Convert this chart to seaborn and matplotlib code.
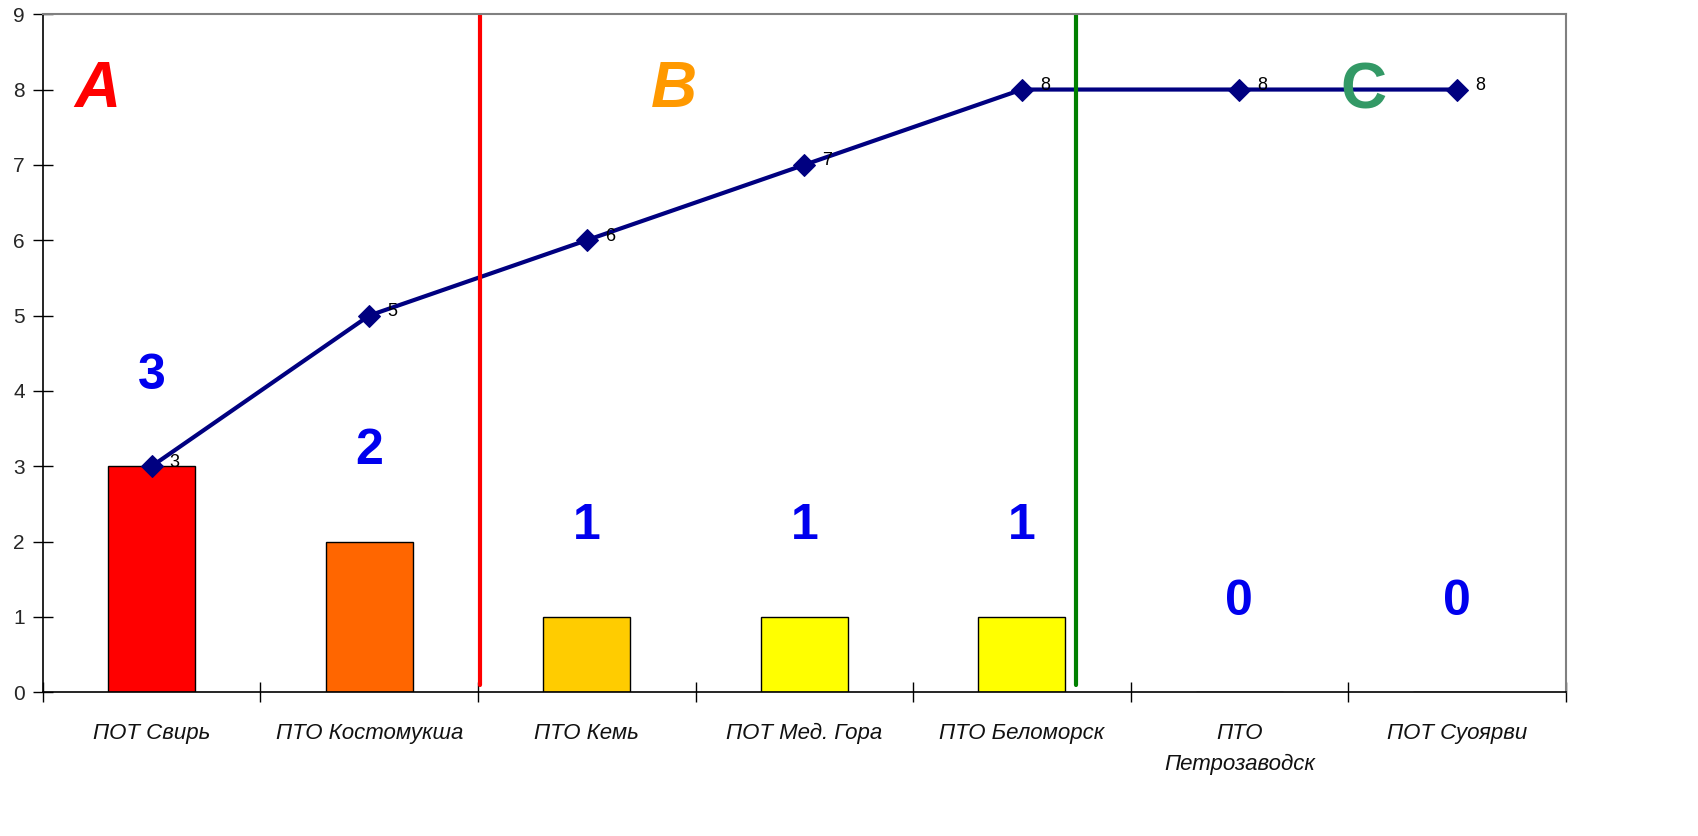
import numpy as np
import pandas as pd
import seaborn as sns
import matplotlib.pyplot as plt

# data
categories = ["ПОТ Свирь", "ПТО Костомукша", "ПТО Кемь", "ПОТ Мед. Гора",
              "ПТО Беломорск", "ПТО\nПетрозаводск", "ПОТ Суоярви"]
counts = [3, 2, 1, 1, 1, 0, 0]
cumulative = [3, 5, 6, 7, 8, 8, 8]
bar_colors = ["#FF0000", "#FF6600", "#FFCC00", "#FFFF00", "#FFFF00", "#FFFF00", "#FFFF00"]
groups = ["A", "B", "C"]
group_colors = ["#FF0000", "#FF9900", "#339966"]

sns.set_style("white")
plt.rcParams['font.family'] = ['Liberation Sans', 'DejaVu Sans']

df = pd.DataFrame({"cat": categories, "count": counts, "cum": cumulative})
df["pos"] = np.arange(len(df))

fig, ax = plt.subplots(figsize=(16.98, 8.36), dpi=100)
fig.subplots_adjust(left=0.0253, right=0.922, top=0.983, bottom=0.172)

sns.barplot(data=df, x="cat", y="count", hue="cat", palette=bar_colors,
            legend=False, width=0.4, saturation=1, edgecolor="black", linewidth=1, ax=ax)

sns.lineplot(data=df, x="pos", y="cum", color="#000080", linewidth=3,
             marker="D", markersize=11, markeredgecolor="#000080", sort=False, ax=ax)

# small labels on the cumulative line
for i, v in enumerate(cumulative):
    ax.annotate(str(v), (i, v), xytext=(13, 3), textcoords="offset points",
                fontsize=13, color="black", va="center", ha="left")

# big blue value labels above bars
for i, v in enumerate(counts):
    ax.text(i, v + 1.2, str(v), color="#0000EE", fontsize=36, fontweight="bold",
            ha="center", va="center")

# ABC boundaries
ax.plot([1.51, 1.51], [0.1, 9], color="#FF0000", linewidth=3)
ax.plot([4.25, 4.25], [0.1, 9], color="#008000", linewidth=3)

# group letters
ax.text(-0.25, 8, groups[0], color=group_colors[0], fontsize=46, fontweight="bold",
        fontstyle="italic", ha="center", va="center")
ax.text(2.4, 8, groups[1], color=group_colors[1], fontsize=46, fontweight="bold",
        fontstyle="italic", ha="center", va="center")
ax.text(5.57, 7.98, groups[2], color=group_colors[2], fontsize=46, fontweight="bold",
        ha="center", va="center")

ax.set_xlim(-0.5, 6.5)
ax.set_ylim(0, 9)
ax.set_yticks(range(10))
ax.set_xlabel("")
ax.set_ylabel("")

ax.set_xticks(range(len(categories)))
ax.set_xticklabels(categories, fontstyle="italic", fontsize=16, linespacing=1.6,
                   color="#111111")
ax.tick_params(axis="x", which="major", length=0, pad=22)
ax.set_xticks(np.arange(-0.5, 7, 1), minor=True)
ax.tick_params(axis="x", which="minor", bottom=True, direction="inout", length=14,
               width=1, color="black")
ax.tick_params(axis="y", left=True, direction="inout", length=14, width=1, color="black",
               labelsize=15, pad=6)

for s in ["left", "bottom"]:
    ax.spines[s].set_color("black")
    ax.spines[s].set_linewidth(1.2)
for s in ["top", "right"]:
    ax.spines[s].set_color("#808080")
    ax.spines[s].set_linewidth(1.5)

plt.savefig("out.png", dpi=100)
